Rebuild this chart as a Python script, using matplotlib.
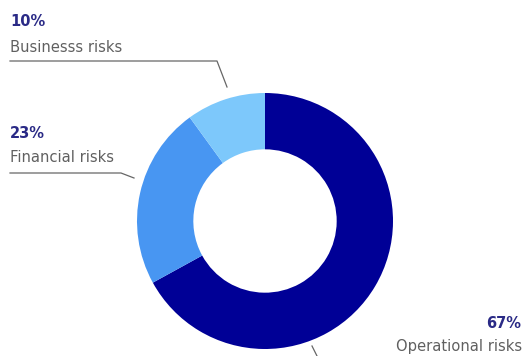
import matplotlib.pyplot as plt

# risk breakdown
labels = ["Operational risks", "Financial risks", "Businesss risks"]
shares = [67, 23, 10]
colors = ["#000096", "#4896f2", "#7dc8fb"]

W, H = 525, 356
fig = plt.figure(figsize=(W / 100, H / 100), dpi=100)
ax = fig.add_axes([0, 0, 1, 1])

cx, cy, r = 265, H - 221, 128
ax.pie(shares, colors=colors, startangle=90, counterclock=False,
       center=(cx, cy), radius=r, frame=True,
       wedgeprops=dict(width=r * 0.44, linewidth=0))
ax.set_xlim(0, W)
ax.set_ylim(0, H)
ax.axis("off")

pct_style = dict(color="#2a2a86", fontsize=10.5, fontweight="bold", family="DejaVu Sans")
lab_style = dict(color="#606060", fontsize=10.6, family="DejaVu Sans")
line_style = dict(color="#666666", lw=0.9)

# Business risks
ax.text(10, H - 22, f"{shares[2]}%", va="center", **pct_style)
ax.text(10, H - 48, labels[2], va="center", **lab_style)
ax.plot([10, 217, 227], [H - 61, H - 61, H - 87], **line_style)

# Financial risks
ax.text(10, H - 133, f"{shares[1]}%", va="center", **pct_style)
ax.text(10, H - 158, labels[1], va="center", **lab_style)
ax.plot([10, 121, 134], [H - 173, H - 173, H - 178], **line_style)

# Operational risks
ax.text(521, H - 323, f"{shares[0]}%", va="center", ha="right", **pct_style)
ax.text(522, H - 346, labels[0], va="center", ha="right", **lab_style)
ax.plot([312, 317], [H - 346, H - 356], **line_style)

fig.savefig("out.png", dpi=100)
